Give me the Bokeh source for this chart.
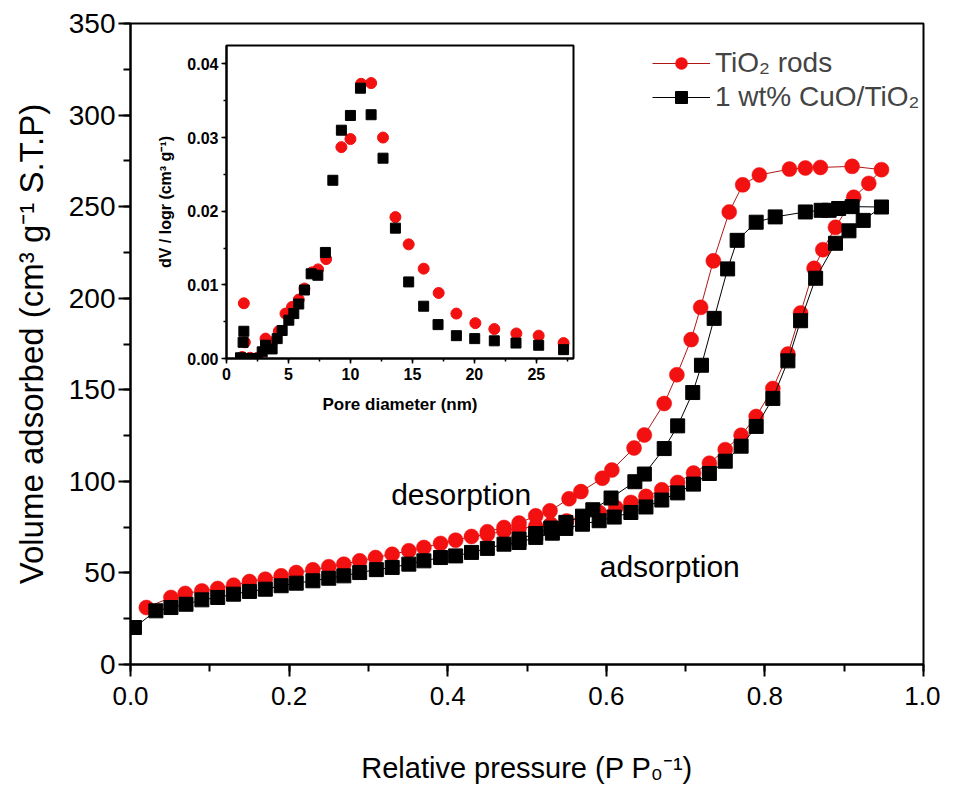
from bokeh.plotting import figure
from bokeh.layouts import column
from bokeh.models import (Range1d, Legend, LegendItem, Label,
                          PrintfTickFormatter, ColumnDataSource, SingleIntervalTicker)
from bokeh.embed import file_html
from bokeh.resources import INLINE

# ---------------- main isotherm data ----------------
tio2_ads_x = [0.020, 0.051, 0.069, 0.090, 0.110, 0.130, 0.150, 0.170, 0.190, 0.209,
              0.230, 0.250, 0.269, 0.289, 0.309, 0.330, 0.351, 0.370, 0.391, 0.410,
              0.430, 0.450, 0.471, 0.490, 0.511, 0.530, 0.550, 0.570, 0.591, 0.612,
              0.631, 0.650, 0.670, 0.690, 0.710, 0.730, 0.750, 0.770, 0.789, 0.810,
              0.829, 0.845, 0.862, 0.873, 0.889, 0.912, 0.931, 0.947]
tio2_ads_y = [31.1, 36.6, 38.8, 40.2, 41.5, 43.3, 45.3, 46.6, 48.4, 50.2,
              51.7, 53.4, 54.8, 56.6, 58.4, 60.2, 62.1, 63.9, 66.1, 67.9,
              69.9, 71.0, 72.8, 74.3, 75.4, 76.6, 78.4, 80.5, 83.0, 85.7,
              88.5, 91.8, 95.4, 99.4, 104.5, 109.9, 117.3, 125.2, 135.4, 150.7,
              169.5, 191.9, 216.3, 226.5, 238.7, 255.1, 262.7, 270.2]
tio2_des_x = [0.910, 0.870, 0.851, 0.831, 0.793, 0.772, 0.755, 0.735, 0.719, 0.707,
              0.689, 0.673, 0.648, 0.635, 0.607, 0.595, 0.568, 0.553, 0.529, 0.511,
              0.490, 0.471, 0.450]
tio2_des_y = [272.0, 271.4, 271.1, 270.5, 267.3, 261.9, 247.1, 220.4, 195.0, 177.4,
              158.2, 142.5, 125.3, 118.2, 106.2, 101.7, 94.4, 90.5, 83.9, 81.2,
              77.2, 74.8, 72.5]

cuo_ads_x = [0.005, 0.032, 0.051, 0.070, 0.090, 0.110, 0.130, 0.150, 0.170, 0.190,
             0.209, 0.230, 0.250, 0.269, 0.289, 0.310, 0.330, 0.351, 0.370, 0.391,
             0.410, 0.430, 0.450, 0.471, 0.490, 0.511, 0.532, 0.549, 0.570, 0.591,
             0.610, 0.631, 0.650, 0.670, 0.690, 0.710, 0.730, 0.750, 0.770, 0.789,
             0.810, 0.829, 0.845, 0.864, 0.889, 0.906, 0.924, 0.947]
cuo_ads_y = [20.2, 29.3, 31.1, 32.9, 35.3, 36.6, 38.4, 39.9, 41.1, 43.0,
             44.4, 45.7, 47.1, 48.4, 50.2, 51.8, 53.0, 54.8, 56.6, 58.4,
             59.3, 61.2, 63.4, 65.7, 66.6, 69.4, 71.7, 74.3, 76.6, 78.5,
             80.5, 83.0, 86.0, 89.8, 93.7, 98.5, 104.3, 111.0, 119.2, 130.0,
             145.3, 165.8, 187.7, 210.9, 230.0, 236.8, 242.5, 249.8]
cuo_des_x = [0.910, 0.893, 0.881, 0.871, 0.851, 0.813, 0.789, 0.765, 0.753, 0.736,
             0.720, 0.709, 0.690, 0.673, 0.648, 0.636, 0.606, 0.583, 0.570, 0.549,
             0.530, 0.511, 0.490]
cuo_des_y = [250.0, 249.0, 248.0, 248.0, 247.1, 244.4, 241.5, 231.6, 216.0, 189.0,
             163.4, 148.5, 130.3, 117.9, 104.0, 99.8, 90.9, 84.5, 81.0, 77.6,
             74.5, 71.5, 68.5]

# ---------------- inset pore size distribution ----------------
psd_tio2_x = [1.26, 1.40, 1.48, 1.9, 2.5, 3.15, 3.68, 4.22, 4.76, 5.29, 5.83, 6.29,
              6.91, 7.39, 8.04, 9.27, 10.0, 10.86, 11.67, 12.63, 13.63, 14.70,
              15.91, 17.12, 18.55, 20.08, 21.61, 23.39, 25.19, 27.2]
psd_tio2_y = [0.0002, 0.0075, 0.0022, 0.0001, 0.0001, 0.0027, 0.0022, 0.0037, 0.0061,
              0.0070, 0.0080, 0.0095, 0.0117, 0.0121, 0.0135, 0.0287, 0.0298, 0.0373,
              0.0374, 0.0300, 0.0192, 0.0155, 0.0122, 0.0089, 0.0061, 0.0048, 0.0040,
              0.0034, 0.0031, 0.0021]
psd_cuo_x = [1.13, 1.34, 1.40, 1.94, 2.45, 2.88, 3.15, 3.68, 4.09, 4.49, 5.03, 5.43,
             5.83, 6.29, 6.83, 7.37, 7.98, 8.58, 9.27, 10.0, 10.81, 11.67, 12.63,
             13.63, 14.70, 15.91, 17.07, 18.55, 20.03, 21.61, 23.36, 25.19, 27.2]
psd_cuo_y = [0.0001, 0.0022, 0.0037, 0.0000, 0.0000, 0.0009, 0.0018, 0.0013, 0.0027,
             0.0038, 0.0052, 0.0061, 0.0074, 0.0093, 0.0115, 0.0113, 0.0144, 0.0242,
             0.0310, 0.0330, 0.0367, 0.0331, 0.0272, 0.0177, 0.0104, 0.0071, 0.0046,
             0.0031, 0.0027, 0.0024, 0.0021, 0.0018, 0.0012]

legend_labels = ["TiO\u2082 rods", "1 wt% CuO/TiO\u2082"]

FONT = "Liberation Sans"
RED = "#f21010"
W, H = 940, 778
BL, BR = 130, 17   # shared left/right borders (column aligns them)

# ---------------- main figure ----------------
p = figure(output_backend="svg", toolbar_location=None,
           frame_width=793, frame_height=641,
           min_border_left=BL, min_border_top=23, min_border_right=BR, min_border_bottom=114,
           x_range=Range1d(0, 1.0), y_range=Range1d(0, 350))
p.background_fill_color = "white"
p.border_fill_color = "white"
p.outline_line_color = "black"
p.outline_line_width = 2
p.xgrid.visible = False
p.ygrid.visible = False

src_t = ColumnDataSource(dict(x=tio2_ads_x + tio2_des_x, y=tio2_ads_y + tio2_des_y))
src_c = ColumnDataSource(dict(x=cuo_ads_x + cuo_des_x, y=cuo_ads_y + cuo_des_y))

lt = p.line("x", "y", source=src_t, line_color="#b01818", line_width=1)
st = p.scatter("x", "y", source=src_t, marker="circle", size=15,
               fill_color=RED, line_color=RED, line_width=0.5)
lc = p.line("x", "y", source=src_c, line_color="black", line_width=1)
sc = p.scatter("x", "y", source=src_c, marker="square", size=14,
               fill_color="black", line_color="black")

for ax in (p.xaxis[0], p.yaxis[0]):
    ax.axis_line_width = 2
    ax.major_tick_line_width = 2
    ax.minor_tick_line_width = 2
    ax.major_tick_in = 0
    ax.major_tick_out = 12
    ax.minor_tick_in = 0
    ax.minor_tick_out = 7
    ax.major_label_text_font = FONT
    ax.major_label_text_color = "black"
    ax.axis_label_text_font = FONT
    ax.axis_label_text_font_style = "normal"
    ax.axis_label_text_color = "black"

p.xaxis[0].ticker = SingleIntervalTicker(interval=0.2, num_minor_ticks=2)
p.yaxis[0].ticker = SingleIntervalTicker(interval=50, num_minor_ticks=2)
p.xaxis[0].formatter = PrintfTickFormatter(format="%.1f")
p.xaxis[0].axis_label = "Relative pressure (P P\u2080\u207b\u00b9)"
p.yaxis[0].axis_label = "Volume adsorbed (cm\u00b3 g\u207b\u00b9 S.T.P)"
p.xaxis[0].major_label_text_font_size = "26px"
p.yaxis[0].major_label_text_font_size = "28px"
p.xaxis[0].axis_label_text_font_size = "29px"
p.yaxis[0].axis_label_text_font_size = "33px"
p.xaxis[0].major_label_standoff = 10
p.xaxis[0].axis_label_standoff = 44
p.yaxis[0].major_label_standoff = 3
p.yaxis[0].axis_label_standoff = 16

legend = Legend(items=[LegendItem(label=legend_labels[0], renderers=[lt, st]),
                       LegendItem(label=legend_labels[1], renderers=[lc, sc])],
                location=(512, 541))
legend.label_text_font = FONT
legend.label_text_font_size = "28px"
legend.glyph_width = 58
legend.glyph_height = 30
legend.label_height = 30
legend.label_standoff = 5
legend.spacing = 2
legend.padding = 10
legend.margin = 0
legend.border_line_alpha = 0
legend.background_fill_alpha = 0
p.add_layout(legend)

p.add_layout(Label(x=0.417, y=93.0, text="desorption", text_align="center",
                   text_baseline="middle", text_font=FONT, text_font_size="30px",
                   text_color="black"))
p.add_layout(Label(x=0.680, y=53.5, text="adsorption", text_align="center",
                   text_baseline="middle", text_font=FONT, text_font_size="30px",
                   text_color="black"))

# ---------------- inset, overlaid with a negative top margin ----------------
ins = figure(output_backend="svg", toolbar_location=None,
             frame_width=347, frame_height=313,
             min_border_left=BL, min_border_top=10, min_border_right=BR, min_border_bottom=60,
             x_range=Range1d(0, 28), y_range=Range1d(0, 0.0425),
             margin=(-(H - 27), 0, 0, 96))
ins.background_fill_color = "white"
ins.border_fill_alpha = 0
ins.outline_line_color = "black"
ins.outline_line_width = 2
ins.xgrid.visible = False
ins.ygrid.visible = False
ins.scatter(psd_tio2_x, psd_tio2_y, marker="circle", size=11,
            fill_color=RED, line_color=RED)
ins.scatter(psd_cuo_x, psd_cuo_y, marker="square", size=10,
            fill_color="black", line_color="black")
for ax in (ins.xaxis[0], ins.yaxis[0]):
    ax.axis_line_width = 2
    ax.major_tick_line_width = 1.5
    ax.minor_tick_line_width = 1.5
    ax.major_tick_in = 0
    ax.major_tick_out = 5
    ax.minor_tick_in = 0
    ax.minor_tick_out = 3
    ax.major_label_text_font = FONT
    ax.major_label_text_font_size = "16px"
    ax.major_label_text_font_style = "bold"
    ax.major_label_text_color = "black"
    ax.axis_label_text_font = FONT
    ax.axis_label_text_font_style = "bold"
    ax.axis_label_text_color = "black"
ins.xaxis[0].ticker = SingleIntervalTicker(interval=5, num_minor_ticks=2)
ins.yaxis[0].ticker = SingleIntervalTicker(interval=0.01, num_minor_ticks=2)
ins.yaxis[0].formatter = PrintfTickFormatter(format="%.2f")
ins.xaxis[0].axis_label = "Pore diameter (nm)"
ins.xaxis[0].axis_label_text_font_size = "17px"
ins.yaxis[0].axis_label = "dV / logr (cm\u00b3 g\u207b\u00b9)"
ins.yaxis[0].axis_label_text_font_size = "16px"
ins.xaxis[0].major_label_standoff = 4
ins.xaxis[0].axis_label_standoff = 12
ins.yaxis[0].major_label_standoff = 3
ins.yaxis[0].axis_label_standoff = 10

layout = column(p, ins)

open("out.html", "w").write(file_html(layout, INLINE))
